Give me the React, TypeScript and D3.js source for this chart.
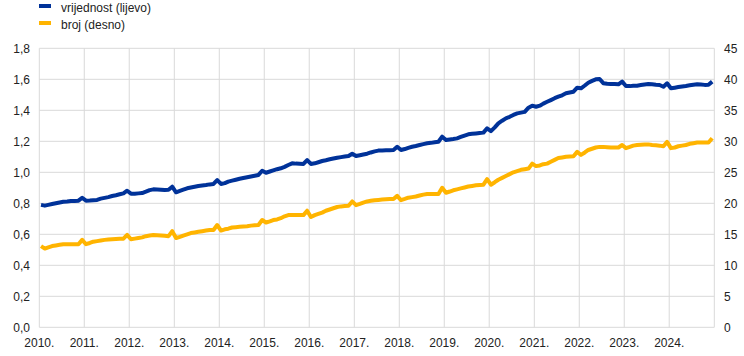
import React from "react";
import * as d3 from "d3";

const years = [2010, 2011, 2012, 2013, 2014, 2015, 2016, 2017, 2018, 2019, 2020, 2021, 2022, 2023, 2024];
const tickYears = [2010, 2011, 2012, 2013, 2014, 2015, 2016, 2017, 2018, 2019, 2020, 2021, 2022, 2023, 2024];
const leftTicks = [0, 0.2, 0.4, 0.6, 0.8, 1.0, 1.2, 1.4, 1.6, 1.8];
const rightTicks = [0, 5, 10, 15, 20, 25, 30, 35, 40, 45];
const seriesNames = ["vrijednost (lijevo)", "broj (desno)"];

// vrijednost (left axis), monthly Jan..Dec for each year
const valueByYear = [
  [0.79, 0.785, 0.79, 0.795, 0.8, 0.805, 0.81, 0.812, 0.815, 0.815, 0.817, 0.836],
  [0.817, 0.818, 0.82, 0.822, 0.83, 0.835, 0.84, 0.847, 0.852, 0.858, 0.864, 0.881],
  [0.862, 0.862, 0.864, 0.866, 0.875, 0.885, 0.89, 0.889, 0.888, 0.886, 0.887, 0.907],
  [0.871, 0.88, 0.888, 0.897, 0.902, 0.907, 0.912, 0.915, 0.918, 0.922, 0.925, 0.95],
  [0.925, 0.93, 0.94, 0.946, 0.952, 0.958, 0.963, 0.968, 0.973, 0.978, 0.983, 1.01],
  [0.997, 1.005, 1.012, 1.02, 1.026, 1.035, 1.047, 1.058, 1.056, 1.055, 1.054, 1.079],
  [1.054, 1.058, 1.065, 1.073, 1.078, 1.084, 1.089, 1.094, 1.098, 1.102, 1.105, 1.12],
  [1.105, 1.11, 1.115, 1.12, 1.128, 1.135, 1.14, 1.141, 1.142, 1.143, 1.144, 1.165],
  [1.144, 1.15, 1.158, 1.165, 1.17, 1.176, 1.182, 1.187, 1.19, 1.194, 1.197, 1.23],
  [1.208, 1.212, 1.215, 1.219, 1.228, 1.237, 1.245, 1.248, 1.251, 1.254, 1.256, 1.284],
  [1.266, 1.29, 1.316, 1.333, 1.348, 1.358, 1.37, 1.38, 1.385, 1.39, 1.417, 1.43],
  [1.423, 1.43, 1.443, 1.455, 1.466, 1.478, 1.488, 1.497, 1.51, 1.515, 1.52, 1.546],
  [1.542, 1.56, 1.578, 1.59, 1.6, 1.602, 1.575, 1.571, 1.57, 1.569, 1.568, 1.585],
  [1.557, 1.556, 1.558, 1.559, 1.563, 1.567, 1.57, 1.568, 1.565, 1.563, 1.552, 1.574],
  [1.542, 1.546, 1.55, 1.554, 1.557, 1.561, 1.565, 1.568, 1.566, 1.564, 1.565, 1.585],
];

// broj (right axis), monthly Jan..Dec for each year
const countByYear = [
  [13.1, 12.7, 12.9, 13.1, 13.2, 13.3, 13.4, 13.4, 13.4, 13.4, 13.4, 14.1],
  [13.4, 13.6, 13.8, 13.9, 14.0, 14.1, 14.15, 14.2, 14.25, 14.3, 14.3, 14.9],
  [14.2, 14.3, 14.4, 14.5, 14.7, 14.8, 14.9, 14.85, 14.8, 14.75, 14.7, 15.5],
  [14.4, 14.6, 14.8, 15.0, 15.2, 15.3, 15.4, 15.5, 15.6, 15.7, 15.7, 16.5],
  [15.6, 15.8, 15.9, 16.1, 16.15, 16.2, 16.25, 16.3, 16.4, 16.45, 16.5, 17.3],
  [16.9, 17.1, 17.3, 17.4, 17.6, 17.9, 18.1, 18.1, 18.1, 18.1, 18.1, 18.8],
  [17.8, 18.1, 18.3, 18.5, 18.8, 19.0, 19.2, 19.4, 19.5, 19.55, 19.6, 20.3],
  [19.7, 19.9, 20.1, 20.3, 20.4, 20.5, 20.55, 20.6, 20.65, 20.7, 20.7, 21.2],
  [20.5, 20.7, 20.9, 21.0, 21.1, 21.25, 21.4, 21.5, 21.5, 21.5, 21.5, 22.5],
  [21.7, 21.9, 22.1, 22.25, 22.4, 22.55, 22.7, 22.8, 22.9, 22.95, 23.0, 23.9],
  [23.0, 23.4, 23.8, 24.1, 24.4, 24.7, 25.0, 25.2, 25.4, 25.5, 25.6, 26.4],
  [26.0, 26.1, 26.3, 26.4, 26.7, 27.0, 27.3, 27.4, 27.5, 27.55, 27.6, 28.3],
  [27.8, 28.2, 28.6, 28.8, 29.0, 29.1, 29.1, 29.05, 29.0, 29.0, 29.0, 29.4],
  [28.9, 29.1, 29.3, 29.4, 29.45, 29.5, 29.5, 29.4, 29.35, 29.3, 29.2, 29.9],
  [28.9, 29.0, 29.2, 29.3, 29.4, 29.6, 29.7, 29.8, 29.8, 29.8, 29.8, 30.5],
];

const W = 744;
const H = 356;
const M = { left: 39.3, right: 714.3, top: 48.3, bottom: 327.3 };
const BLUE = "#003299";
const ORANGE = "#FFB400";
const GRID = "#d9d9d9";
const FONT = "Liberation Sans, Arial, sans-serif";

type Pt = { date: Date; v: number };

function toPoints(byYear: number[][]): Pt[] {
  const out: Pt[] = [];
  years.forEach((y, yi) => {
    byYear[yi].forEach((v, m) => {
      out.push({ date: new Date(y, m, 15), v });
    });
  });
  return out;
}

export default function App() {
  const x = d3
    .scaleTime()
    .domain([new Date(2010, 0, 1), new Date(2025, 0, 1)])
    .range([M.left, M.right]);
  const yL = d3.scaleLinear().domain([0, 1.8]).range([M.bottom, M.top]);
  const yR = d3.scaleLinear().domain([0, 45]).range([M.bottom, M.top]);

  const valuePts = toPoints(valueByYear);
  const countPts = toPoints(countByYear);

  const lineL = d3
    .line<Pt>()
    .x((d) => x(d.date))
    .y((d) => yL(d.v));
  const lineR = d3
    .line<Pt>()
    .x((d) => x(d.date))
    .y((d) => yR(d.v));

  const fmtL = (v: number) => d3.format(".1f")(v).replace(".", ",");

  return (
    <svg
      width={W}
      height={H}
      style={{ position: "absolute", left: 0, top: 0, background: "#fff" }}
      fontFamily={FONT}
    >
      {leftTicks.map((t) => (
        <line
          key={"h" + t}
          x1={M.left}
          x2={M.right}
          y1={yL(t)}
          y2={yL(t)}
          stroke={GRID}
          strokeWidth={1}
        />
      ))}
      {[...tickYears, 2025].map((yr) => (
        <line
          key={"v" + yr}
          x1={x(new Date(yr, 0, 1))}
          x2={x(new Date(yr, 0, 1))}
          y1={M.top}
          y2={M.bottom}
          stroke={GRID}
          strokeWidth={1}
        />
      ))}
      {leftTicks.map((t) => (
        <text
          key={"l" + t}
          x={30}
          y={yL(t)}
          dy="0.35em"
          textAnchor="end"
          fontSize={12}
          fill="#222"
        >
          {fmtL(t)}
        </text>
      ))}
      {rightTicks.map((t) => (
        <text
          key={"r" + t}
          x={724}
          y={yR(t)}
          dy="0.35em"
          textAnchor="start"
          fontSize={12}
          fill="#222"
        >
          {t}
        </text>
      ))}
      {tickYears.map((yr) => (
        <text
          key={"x" + yr}
          x={x(new Date(yr, 0, 1))}
          y={347}
          textAnchor="middle"
          fontSize={12}
          fill="#222"
        >
          {yr + "."}
        </text>
      ))}
      <path d={lineR(countPts) || ""} fill="none" stroke={ORANGE} strokeWidth={4} strokeLinejoin="round" />
      <path d={lineL(valuePts) || ""} fill="none" stroke={BLUE} strokeWidth={4} strokeLinejoin="round" />
      <rect x={39} y={4} width={12} height={4} fill={BLUE} />
      <text x={61} y={12} fontSize={12} fill="#222">
        {seriesNames[0]}
      </text>
      <rect x={39} y={21} width={12} height={4} fill={ORANGE} />
      <text x={61} y={29} fontSize={12} fill="#222">
        {seriesNames[1]}
      </text>
    </svg>
  );
}
